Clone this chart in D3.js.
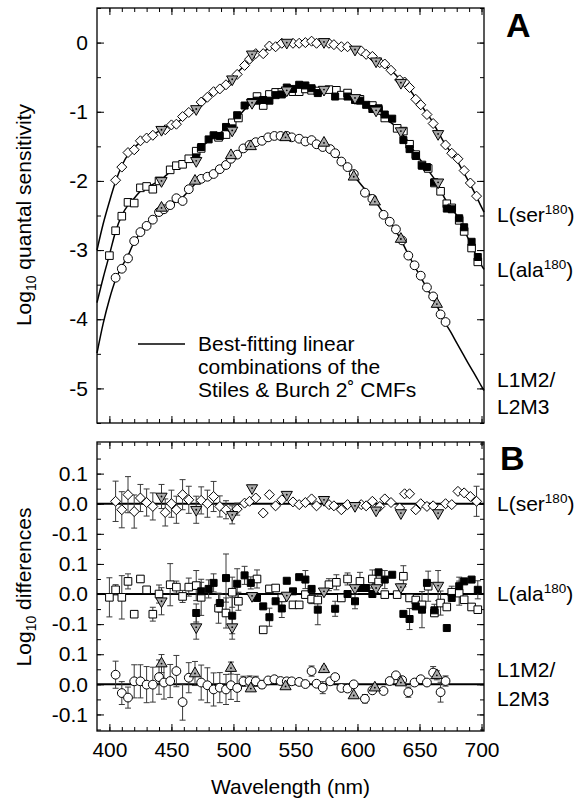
<!DOCTYPE html>
<html>
<head>
<meta charset="utf-8">
<script src="https://cdnjs.cloudflare.com/ajax/libs/d3/7.8.5/d3.min.js"></script>
<style>
body{margin:0;background:#fff}
text{font-family:"Liberation Sans",Arial,Helvetica,sans-serif;fill:#000}
</style>
</head>
<body>
<svg id="fig" width="574" height="804"></svg>
<script>
//axis values
var xDomain = [390, 702];
var yADomain = [-5.5, 0.5];
var yBDomain = [-0.155, 0.805];
var xMajor = [400, 450, 500, 550, 600, 650, 700];
var xMajorLabels = ['400', '450', '500', '550', '600', '650', '700'];
var yAMajor = [-5, -4, -3, -2, -1, 0];
var yAMajorLabels = ['-5', '-4', '-3', '-2', '-1', '0'];
var yBMajor = [-0.1, 0, 0.1, 0.2, 0.3, 0.4, 0.5, 0.6, 0.7];
var yBMajorLabels = ['-0.1', '0.0', '0.1', '-0.1', '0.0', '0.1', '-0.1', '0.0', '0.1'];

//panel A: best-fitting curves [nm, log10 sensitivity]
var serFit = [[390,-3.0],[395,-2.62],[400,-2.3],[405,-2.01],[410,-1.78],[415,-1.62],[420,-1.52],[425,-1.44],[430,-1.38],[435,-1.33],[440,-1.28],[445,-1.23],[450,-1.19],[455,-1.15],[460,-1.08],[465,-1.01],[470,-0.94],[475,-0.85],[480,-0.78],[485,-0.72],[490,-0.65],[495,-0.58],[500,-0.49],[505,-0.4],[510,-0.31],[515,-0.21],[520,-0.16],[525,-0.12],[530,-0.07],[535,-0.05],[540,-0.02],[545,-0.01],[550,-0.01],[555,-0.01],[560,0],[565,0],[570,0],[575,0],[580,-0.02],[585,-0.03],[590,-0.05],[595,-0.07],[600,-0.1],[605,-0.14],[610,-0.19],[615,-0.25],[620,-0.31],[625,-0.37],[630,-0.45],[635,-0.55],[640,-0.64],[645,-0.75],[650,-0.87],[655,-1.0],[660,-1.13],[665,-1.29],[670,-1.45],[675,-1.58],[680,-1.7],[685,-1.86],[690,-2.02],[695,-2.19],[700,-2.38],[702,-2.45]];
var alaFit = [[390,-3.76],[395,-3.4],[400,-3.07],[405,-2.73],[410,-2.5],[415,-2.35],[420,-2.25],[425,-2.15],[430,-2.09],[435,-2.05],[440,-2.0],[445,-1.93],[450,-1.85],[455,-1.79],[460,-1.74],[465,-1.69],[470,-1.6],[475,-1.5],[480,-1.42],[485,-1.35],[490,-1.3],[495,-1.24],[500,-1.15],[505,-1.05],[510,-0.95],[515,-0.87],[520,-0.82],[525,-0.79],[530,-0.76],[535,-0.73],[540,-0.7],[545,-0.68],[550,-0.67],[555,-0.67],[560,-0.67],[565,-0.68],[570,-0.68],[575,-0.7],[580,-0.72],[585,-0.74],[590,-0.77],[595,-0.8],[600,-0.84],[605,-0.88],[610,-0.94],[615,-1.0],[620,-1.06],[625,-1.13],[630,-1.2],[635,-1.3],[640,-1.41],[645,-1.55],[650,-1.68],[655,-1.8],[660,-1.92],[665,-2.05],[670,-2.24],[675,-2.38],[680,-2.5],[685,-2.68],[690,-2.86],[695,-3.05],[700,-3.22],[702,-3.28]];
var hybFit = [[390,-4.49],[395,-4.06],[400,-3.71],[405,-3.43],[410,-3.24],[415,-3.08],[420,-2.88],[425,-2.75],[430,-2.65],[435,-2.56],[440,-2.47],[445,-2.41],[450,-2.35],[455,-2.28],[460,-2.22],[465,-2.12],[470,-2.03],[475,-1.97],[480,-1.93],[485,-1.87],[490,-1.81],[495,-1.73],[500,-1.65],[505,-1.58],[510,-1.52],[515,-1.48],[520,-1.44],[525,-1.4],[530,-1.37],[535,-1.36],[540,-1.36],[545,-1.37],[550,-1.39],[555,-1.42],[560,-1.44],[565,-1.46],[570,-1.49],[575,-1.52],[580,-1.58],[585,-1.67],[590,-1.77],[595,-1.88],[600,-1.99],[605,-2.1],[610,-2.2],[615,-2.31],[620,-2.44],[625,-2.57],[630,-2.7],[635,-2.85],[640,-3.03],[645,-3.2],[650,-3.36],[655,-3.52],[660,-3.68],[665,-3.84],[670,-4.03],[675,-4.18],[680,-4.34],[685,-4.5],[690,-4.66],[695,-4.81],[700,-4.97],[702,-5.03]];

//panel A: measured points [nm, log10 sensitivity]
var serDiamonds = [[405,-1.99],[410,-1.8],[415,-1.59],[420,-1.55],[425,-1.42],[430,-1.38],[435,-1.34],[445,-1.26],[450,-1.19],[454,-1.18],[459,-1.07],[464,-1.01],[474,-0.86],[479,-0.79],[484,-0.71],[489,-0.67],[494,-0.61],[503,-0.46],[509,-0.33],[513,-0.24],[518,-0.16],[524,-0.16],[529,-0.05],[534,-0.06],[539,-0.01],[548,-0.01],[553,-0.01],[558,0],[563,0.02],[567,-0.01],[577,-0.01],[581,-0.03],[587,-0.06],[592,-0.06],[603,-0.12],[607,-0.17],[612,-0.2],[618,-0.29],[622,-0.31],[627,-0.4],[634,-0.54],[638,-0.57],[642,-0.65],[647,-0.82],[651,-0.9],[656,-1.04],[661,-1.17],[671,-1.48],[676,-1.6],[681,-1.68],[686,-1.85],[691,-2.03],[696,-2.22]];
var serTriangles = [[442,-1.26],[470,-0.96],[499,-0.53],[515,-0.17],[543,0],[573,0.01],[598,-0.1],[615,-0.27],[635,-0.58],[665,-1.32]];
var alaOpen = [[400,-3.08],[405,-2.72],[410,-2.51],[415,-2.31],[420,-2.32],[425,-2.1],[430,-2.08],[435,-2.12],[440,-2.0],[449,-1.84],[454,-1.78],[459,-1.76],[464,-1.68],[470,-1.57],[474,-1.53],[488,-1.37],[494,-1.33],[499,-1.16],[504,-1.09],[519,-0.78],[524,-0.91],[529,-0.75],[534,-0.72],[539,-0.72],[548,-0.71],[553,-0.71],[558,-0.67],[563,-0.69],[568,-0.7],[577,-0.68],[583,-0.69],[587,-0.76],[592,-0.73],[602,-0.82],[612,-0.91],[617,-0.98],[622,-1.09],[632,-1.24],[637,-1.28],[642,-1.47],[647,-1.62],[652,-1.77],[657,-1.82],[662,-2.03],[667,-2.15],[672,-2.33],[676,-2.39],[682,-2.57],[686,-2.73],[692,-2.97],[697,-3.17]];
var alaFilled = [[470,-1.66],[474,-1.51],[480,-1.4],[484,-1.34],[489,-1.35],[494,-1.22],[499,-1.24],[503,-1.05],[509,-0.91],[514,-0.86],[519,-0.84],[524,-0.83],[529,-0.84],[534,-0.76],[539,-0.75],[543,-0.65],[548,-0.67],[553,-0.61],[558,-0.62],[563,-0.66],[568,-0.73],[582,-0.78],[592,-0.78],[598,-0.83],[602,-0.84],[607,-0.9],[612,-0.96],[617,-0.95],[622,-1.04],[628,-1.1],[637,-1.41],[642,-1.54],[647,-1.64],[652,-1.78],[656,-1.8],[662,-2.02],[672,-2.4],[676,-2.41],[682,-2.54],[686,-2.67],[692,-2.88],[697,-3.1]];
var alaTriangles = [[442,-2.0],[470,-1.71],[499,-1.27],[515,-0.87],[543,-0.69],[573,-0.68],[598,-0.8],[615,-0.98],[635,-1.28],[665,-2.02]];
var hybCircles = [[405,-3.4],[410,-3.27],[415,-3.12],[420,-2.87],[425,-2.74],[430,-2.65],[435,-2.56],[440,-2.45],[444,-2.41],[449,-2.35],[454,-2.25],[459,-2.29],[464,-2.12],[474,-1.97],[479,-1.94],[484,-1.9],[489,-1.83],[494,-1.77],[498,-1.68],[503,-1.62],[508,-1.53],[513,-1.48],[518,-1.44],[523,-1.42],[528,-1.37],[533,-1.35],[538,-1.35],[543,-1.35],[547,-1.37],[553,-1.39],[558,-1.43],[563,-1.41],[567,-1.47],[572,-1.51],[578,-1.54],[582,-1.6],[587,-1.72],[592,-1.8],[597,-1.9],[606,-2.17],[612,-2.26],[621,-2.49],[626,-2.59],[631,-2.7],[636,-2.86],[641,-3.08],[646,-3.22],[651,-3.37],[656,-3.54],[661,-3.67],[667,-3.93],[671,-4.04]];
var hybTriangles = [[442,-2.39],[469,-2.0],[498,-1.63],[514,-1.5],[542,-1.37],[573,-1.45],[597,-1.94],[614,-2.3],[635,-2.84],[664,-3.78]];

//panel B: differences [nm, log10 difference, error]
var serDiff = [[405,0.008,0.067],[410,-0.02,0.06],[415,0.03,0.06],[420,-0.026,0.055],[425,0.019,0.045],[430,0.004,0.045],[435,-0.009,0.045],[445,-0.029,0.045],[450,0.0,0.045],[454,-0.02,0.045],[459,0.03,0.05],[464,0.013,0.045],[474,0.011,0.045],[479,0.0,0.045],[484,0.024,0.05],[489,-0.009,0.035],[494,-0.02,0.03],[503,-0.018,0.02],[509,0.002,0],[513,0.008,0],[518,0.019,0],[524,-0.031,0],[529,0.03,0],[534,-0.007,0],[539,0.013,0],[548,0.006,0],[553,-0.003,0],[558,0.004,0],[563,0.016,0],[567,-0.007,0],[577,-0.003,0],[581,-0.007,0],[587,-0.02,0],[592,-0.003,0],[603,-0.003,0],[607,-0.007,0],[612,0.008,0],[618,-0.009,0],[622,0.016,0],[627,0.004,0],[634,-0.014,0],[638,0.033,0],[642,0.033,0],[647,-0.02,0],[651,0.0,0],[656,-0.009,0],[661,-0.007,0],[671,0.0,0],[676,-0.003,0],[681,0.041,0],[686,0.036,0],[691,0.024,0],[696,0.008,0.05]];
var serTriDiff = [[442,0.024,0.04],[470,-0.02,0.045],[499,-0.037,0.03],[515,0.052,0.006],[543,0.03,0],[573,0.013,0],[598,-0.007,0],[615,-0.022,0],[635,-0.031,0],[665,-0.031,0]];
var alaOpenDiff = [[400,-0.011,0.065],[405,0.014,0.017],[410,-0.011,0.072],[415,0.042,0.025],[420,-0.067,0],[425,0.05,0.01],[430,0.014,0],[435,-0.067,0.023],[440,0.0,0.03],[449,0.031,0.07],[454,0.023,0.02],[459,-0.008,0.02],[464,0.023,0.03],[470,0.028,0.05],[474,-0.011,0.06],[488,-0.047,0.05],[494,-0.063,0.05],[499,0.006,0.05],[504,-0.024,0.03],[519,0.05,0.03],[524,-0.119,0],[529,0.017,0],[534,0.02,0],[539,-0.013,0],[548,-0.036,0],[553,-0.036,0],[558,-0.002,0],[563,-0.017,0.015],[568,-0.02,0],[577,0.031,0.02],[583,0.039,0.025],[587,-0.013,0],[592,0.05,0.02],[602,0.042,0.03],[612,0.05,0.03],[617,0.04,0],[622,-0.002,0],[632,-0.002,0],[637,0.059,0.035],[642,-0.013,0],[647,-0.02,0],[652,-0.036,0],[657,0.026,0.05],[662,-0.063,0],[667,-0.03,0.04],[672,-0.043,0],[676,0.006,0.02],[682,0.003,0.04],[686,-0.019,0],[692,-0.043,0],[697,-0.052,0]];
var alaFilledDiff = [[470,-0.063,0.03],[474,0.009,0.03],[480,0.017,0.03],[484,0.037,0.03],[489,-0.03,0.03],[494,0.053,0.08],[499,-0.072,0.06],[503,0.034,0.05],[509,0.062,0.03],[514,0.037,0.02],[519,-0.013,0],[524,-0.041,0],[529,-0.077,0.03],[534,-0.024,0],[539,-0.048,0.03],[543,0.044,0],[548,0.009,0],[553,0.056,0],[558,0.048,0.03],[563,0.017,0],[568,-0.052,0.05],[582,-0.049,0.025],[592,0.0,0],[598,-0.024,0.025],[602,0.02,0],[607,0.02,0],[612,0.0,0],[617,0.072,0],[622,0.048,0.03],[628,0.064,0],[637,-0.066,0],[642,-0.083,0.035],[647,-0.041,0],[652,-0.052,0.06],[656,0.037,0],[662,-0.054,0.02],[672,-0.113,0],[676,-0.013,0],[682,0.026,0.03],[686,0.042,0],[692,0.048,0],[697,0.014,0.03]];
var alaTriDiff = [[442,-0.024,0.045],[470,-0.11,0.04],[499,-0.11,0.04],[515,-0.006,0],[543,-0.005,0],[573,0.009,0],[598,0.02,0],[615,0.02,0.015],[635,0.023,0.01],[665,0.028,0.05]];
var hybDiff = [[405,0.032,0.045],[410,-0.029,0.038],[415,-0.044,0.035],[420,0.01,0.055],[425,0.01,0.055],[430,-0.001,0.06],[435,-0.001,0.058],[440,0.024,0.057],[444,0.006,0.055],[449,0.011,0.055],[454,0.044,0.052],[459,-0.059,0.06],[464,0.022,0.05],[474,0.006,0.058],[479,-0.003,0.058],[484,-0.017,0.055],[489,-0.011,0.05],[494,-0.017,0.05],[498,-0.003,0.047],[503,-0.012,0.045],[508,0.01,0.017],[513,0.011,0.017],[518,0.01,0.017],[523,-0.001,0.012],[528,0.013,0.01],[533,0.017,0.007],[538,0.011,0],[543,0.01,0],[547,0.01,0],[553,0.008,0],[558,0.001,0],[563,0.044,0.017],[567,0.002,0],[572,-0.011,0.02],[578,0.01,0],[582,0.024,0],[587,-0.012,0],[592,-0.014,0],[597,0,0],[606,-0.048,0.014],[612,-0.02,0],[621,-0.022,0],[626,0.011,0],[631,0.03,0],[636,0.014,0],[641,-0.026,0.017],[646,0.006,0],[651,0.017,0],[656,0.006,0],[661,0.039,0.02],[667,-0.026,0.033],[671,0.011,0.017]];
var hybTriDiff = [[442,0.069,0.03],[469,0.036,0.04],[498,0.054,0.02],[514,-0.014,0],[542,-0.007,0],[573,0.05,0.01],[597,-0.037,0],[614,-0.011,0],[635,0.006,0],[664,0.03,0.015]];

//layout
var left = 97, right = 484;
var panelA = {top: 8, bottom: 423};
var panelB = {top: 442, bottom: 731};
var offsets = {ser: 0.6, ala: 0.3, hyb: 0};
var triGray = '#a9a9a9';
var barColor = '#3a3a3a';
var fontSize = 21;

var svg = d3.select('#fig');
var x = d3.scaleLinear().domain(xDomain).range([left, right]);
var yA = d3.scaleLinear().domain(yADomain).range([panelA.bottom, panelA.top]);
var yB = d3.scaleLinear().domain(yBDomain).range([panelB.bottom, panelB.top]);

//marker shapes
var shapes = {
  diamond: 'M0,-5L5,0L0,5L-5,0Z',
  square: 'M-3.8,-3.8H3.8V3.8H-3.8Z',
  filled: 'M-3.5,-3.5H3.5V3.5H-3.5Z',
  down: 'M-5.6,-3.3H5.6L0,6.4Z',
  up: 'M-5.6,3.3H5.6L0,-6.4Z'
};

function frameAxes(p, y, yMajor, yLabels, yMinor, xLabels) {
  var g = svg.append('g');
  var xMinor = d3.range(400, 701, 10);
  function clean(sel) {
    sel.select('.domain').remove();
    sel.selectAll('line').attr('stroke', '#000').attr('stroke-width', 1);
    sel.selectAll('text').attr('font-size', fontSize).attr('font-family', '"Liberation Sans",Arial,sans-serif').attr('fill', '#000');
  }
  g.append('g').attr('transform', 'translate(0,' + p.bottom + ')')
    .call(d3.axisBottom(x).tickValues(xMinor).tickSize(-4).tickFormat('')).call(clean);
  g.append('g').attr('transform', 'translate(0,' + p.bottom + ')')
    .call(d3.axisBottom(x).tickValues(xMajor).tickSize(-7).tickPadding(11)
      .tickFormat(function(d, i){ return xLabels ? xMajorLabels[i] : ''; })).call(clean);
  g.append('g').attr('transform', 'translate(0,' + p.top + ')')
    .call(d3.axisTop(x).tickValues(xMinor).tickSize(-4).tickFormat('')).call(clean);
  g.append('g').attr('transform', 'translate(0,' + p.top + ')')
    .call(d3.axisTop(x).tickValues(xMajor).tickSize(-7).tickFormat('')).call(clean);
  g.append('g').attr('transform', 'translate(' + left + ',0)')
    .call(d3.axisLeft(y).tickValues(yMinor).tickSize(-4).tickFormat('')).call(clean);
  g.append('g').attr('transform', 'translate(' + left + ',0)')
    .call(d3.axisLeft(y).tickValues(yMajor).tickSize(-7).tickPadding(9)
      .tickFormat(function(d, i){ return yLabels[i]; })).call(clean);
  g.append('g').attr('transform', 'translate(' + right + ',0)')
    .call(d3.axisRight(y).tickValues(yMinor).tickSize(-4).tickFormat('')).call(clean);
  g.append('g').attr('transform', 'translate(' + right + ',0)')
    .call(d3.axisRight(y).tickValues(yMajor).tickSize(-7).tickFormat('')).call(clean);
  g.append('rect').attr('x', left).attr('y', p.top)
    .attr('width', right - left).attr('height', p.bottom - p.top)
    .attr('fill', 'none').attr('stroke', '#000').attr('stroke-width', 1.3);
}

function drawBars(data, y, off) {
  var g = svg.append('g').attr('stroke', barColor).attr('stroke-width', 1);
  data.filter(function(d){ return d[2] > 0; }).forEach(function(d){
    var cx = x(d[0]), y1 = y(d[1] + off - d[2]), y2 = y(d[1] + off + d[2]);
    g.append('line').attr('x1', cx).attr('x2', cx).attr('y1', y1).attr('y2', y2);
    g.append('line').attr('x1', cx - 3).attr('x2', cx + 3).attr('y1', y1).attr('y2', y1);
    g.append('line').attr('x1', cx - 3).attr('x2', cx + 3).attr('y1', y2).attr('y2', y2);
  });
}

function drawMarks(data, y, off, shape, fill) {
  var g = svg.append('g');
  if (shape == 'circle') {
    g.selectAll('circle').data(data).enter().append('circle')
      .attr('cx', function(d){ return x(d[0]); })
      .attr('cy', function(d){ return y(d[1] + off); })
      .attr('r', 4.4).attr('fill', fill).attr('stroke', '#000').attr('stroke-width', 1);
    return;
  }
  g.selectAll('path').data(data).enter().append('path')
    .attr('d', shapes[shape])
    .attr('transform', function(d){ return 'translate(' + x(d[0]) + ',' + y(d[1] + off) + ')'; })
    .attr('fill', fill).attr('stroke', '#000').attr('stroke-width', 1);
  if (shape == 'down' || shape == 'up') {
    g.selectAll('circle').data(data).enter().append('circle')
      .attr('cx', function(d){ return x(d[0]); })
      .attr('cy', function(d){ return y(d[1] + off); })
      .attr('r', 0.9).attr('fill', '#000');
  }
}

function fitLine(data) {
  var line = d3.line().x(function(d){ return x(d[0]); }).y(function(d){ return yA(d[1]); })
    .curve(d3.curveMonotoneX);
  svg.append('path').attr('d', line(data)).attr('fill', 'none')
    .attr('stroke', '#000').attr('stroke-width', 1.5);
}

// ---- panel A ----
frameAxes(panelA, yA, yAMajor, yAMajorLabels, d3.range(-5.5, 0.51, 0.5), false);
fitLine(serFit);
fitLine(alaFit);
fitLine(hybFit);
drawMarks(serDiamonds, yA, 0, 'diamond', '#fff');
drawMarks(alaOpen, yA, 0, 'square', '#fff');
drawMarks(alaFilled, yA, 0, 'filled', '#000');
drawMarks(hybCircles, yA, 0, 'circle', '#fff');
drawMarks(serTriangles, yA, 0, 'down', triGray);
drawMarks(alaTriangles, yA, 0, 'down', triGray);
drawMarks(hybTriangles, yA, 0, 'up', triGray);

// ---- panel B ----
frameAxes(panelB, yB, yBMajor, yBMajorLabels, d3.range(-0.15, 0.81, 0.05), true);
[offsets.ser, offsets.ala, offsets.hyb].forEach(function(o){
  svg.append('line').attr('x1', left).attr('x2', right).attr('y1', yB(o)).attr('y2', yB(o))
    .attr('stroke', '#000').attr('stroke-width', 2);
});
drawBars(serDiff, yB, offsets.ser);
drawBars(serTriDiff, yB, offsets.ser);
drawBars(alaOpenDiff, yB, offsets.ala);
drawBars(alaFilledDiff, yB, offsets.ala);
drawBars(alaTriDiff, yB, offsets.ala);
drawBars(hybDiff, yB, offsets.hyb);
drawBars(hybTriDiff, yB, offsets.hyb);
drawMarks(serDiff, yB, offsets.ser, 'diamond', '#fff');
drawMarks(serTriDiff, yB, offsets.ser, 'down', triGray);
drawMarks(alaOpenDiff, yB, offsets.ala, 'square', '#fff');
drawMarks(alaFilledDiff, yB, offsets.ala, 'filled', '#000');
drawMarks(alaTriDiff, yB, offsets.ala, 'down', triGray);
drawMarks(hybDiff, yB, offsets.hyb, 'circle', '#fff');
drawMarks(hybTriDiff, yB, offsets.hyb, 'up', triGray);

// ---- text ----
function supLabel(xp, yp, base, sup) {
  var t = svg.append('text').attr('x', xp).attr('y', yp).attr('font-size', fontSize);
  t.append('tspan').text(base);
  t.append('tspan').attr('dy', -8).attr('font-size', 13.5).text(sup);
  t.append('tspan').attr('dy', 8).text(')');
}
function plainLabel(xp, yp, s) {
  svg.append('text').attr('x', xp).attr('y', yp).attr('font-size', fontSize).text(s);
}
supLabel(497, 222, 'L(ser', '180');
supLabel(497, 277, 'L(ala', '180');
plainLabel(497, 387, 'L1M2/');
plainLabel(497, 414, 'L2M3');
supLabel(497, 511, 'L(ser', '180');
supLabel(497, 601, 'L(ala', '180');
plainLabel(497, 677, 'L1M2/');
plainLabel(497, 706, 'L2M3');

svg.append('text').attr('x', 506).attr('y', 37).attr('font-size', 34).attr('font-weight', 'bold').text('A');
svg.append('text').attr('x', 500).attr('y', 470).attr('font-size', 34).attr('font-weight', 'bold').text('B');

function yTitle(cy, rest) {
  var t = svg.append('text').attr('transform', 'translate(31,' + cy + ') rotate(-90)')
    .attr('text-anchor', 'middle').attr('font-size', fontSize);
  t.append('tspan').text('Log');
  t.append('tspan').attr('dy', 5).attr('font-size', 14).text('10');
  t.append('tspan').attr('dy', -5).text(rest);
}
yTitle(215, ' quantal sensitivity');
yTitle(587, ' differences');

svg.append('text').attr('x', (left + right) / 2).attr('y', 794).attr('text-anchor', 'middle')
  .attr('font-size', fontSize).text('Wavelength (nm)');

//legend
svg.append('line').attr('x1', 138).attr('x2', 185).attr('y1', 344).attr('y2', 344)
  .attr('stroke', '#000').attr('stroke-width', 1.5);
var legendLines = ['Best-fitting linear', 'combinations of the', 'Stiles & Burch 2\u02DA CMFs'];
legendLines.forEach(function(s, i){
  svg.append('text').attr('x', 198).attr('y', 351 + i * 23).attr('font-size', fontSize).text(s);
});
</script>
</body>
</html>
